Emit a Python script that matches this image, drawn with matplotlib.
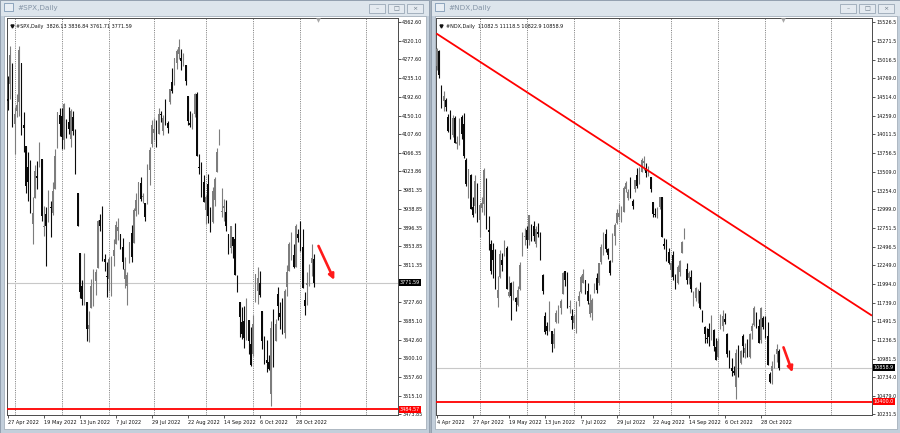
import matplotlib
matplotlib.use("Agg")
import matplotlib.pyplot as plt
from matplotlib.patches import Rectangle

W, H = 900, 433

# --- data: (open, high, low, close) per daily bar ---
spx_candles = [
    (4187, 4241, 4163, 4184), (4223, 4309, 4189, 4288), (4254, 4270, 4124, 4132),
    (4131, 4170, 4063, 4155), (4160, 4200, 4147, 4175), (4181, 4308, 4149, 4300),
    (4270, 4270, 4106, 4147), (4128, 4158, 4068, 4123), (4081, 4081, 3976, 3991),
    (4035, 4069, 3958, 4001), (3990, 4049, 3929, 3935), (3904, 3965, 3859, 3930),
    (3964, 4039, 3964, 4024), (4013, 4047, 3984, 4008), (4052, 4091, 4034, 4089),
    (4052, 4052, 3912, 3924), (3899, 3946, 3877, 3901), (3928, 3943, 3810, 3901),
    (3919, 3982, 3909, 3974), (3943, 3956, 3875, 3941), (3930, 3999, 3925, 3979),
    (3985, 4075, 3985, 4058), (4077, 4158, 4077, 4158), (4151, 4168, 4105, 4132),
    (4150, 4167, 4074, 4101), (4095, 4178, 4074, 4177), (4138, 4143, 4099, 4109),
    (4135, 4169, 4109, 4121), (4097, 4165, 4080, 4161), (4147, 4160, 4107, 4116),
    (4102, 4119, 4017, 4018), (3974, 3974, 3900, 3901), (3838, 3838, 3736, 3750),
    (3764, 3778, 3722, 3735), (3764, 3838, 3722, 3790), (3728, 3728, 3640, 3667),
    (3666, 3708, 3637, 3675), (3715, 3780, 3715, 3765), (3734, 3802, 3718, 3760),
    (3775, 3803, 3744, 3796), (3805, 3914, 3805, 3912), (3913, 3928, 3890, 3900),
    (3913, 3946, 3820, 3822), (3825, 3837, 3799, 3819), (3786, 3819, 3739, 3785),
    (3781, 3830, 3752, 3825), (3793, 3832, 3742, 3831), (3832, 3871, 3809, 3845),
    (3859, 3911, 3859, 3903), (3888, 3919, 3869, 3899), (3881, 3881, 3847, 3854),
    (3852, 3873, 3802, 3819), (3780, 3829, 3759, 3802), (3764, 3796, 3722, 3790),
    (3818, 3864, 3817, 3863), (3884, 3902, 3819, 3831), (3861, 3940, 3861, 3937),
    (3935, 3974, 3922, 3960), (3956, 3999, 3928, 3999), (3998, 4012, 3956, 3962),
    (3966, 3975, 3953, 3967), (3953, 3953, 3911, 3921), (3951, 4040, 3951, 4024),
    (4026, 4079, 3993, 4072), (4087, 4140, 4079, 4130), (4112, 4145, 4096, 4119),
    (4104, 4141, 4080, 4091), (4108, 4168, 4108, 4155), (4155, 4161, 4135, 4152),
    (4116, 4152, 4107, 4145), (4156, 4187, 4129, 4140), (4133, 4137, 4112, 4122),
    (4181, 4211, 4177, 4210), (4227, 4258, 4201, 4207), (4225, 4281, 4220, 4280),
    (4269, 4302, 4257, 4297), (4291, 4325, 4278, 4305), (4280, 4302, 4253, 4274),
    (4273, 4293, 4262, 4284), (4266, 4266, 4219, 4228), (4195, 4195, 4130, 4138),
    (4133, 4160, 4124, 4129), (4127, 4157, 4120, 4141), (4153, 4201, 4148, 4199),
    (4199, 4203, 4058, 4058), (4035, 4063, 4017, 4031), (4041, 4045, 3965, 3986),
    (4001, 4015, 3955, 3955), (3937, 3970, 3904, 3967), (3995, 4018, 3906, 3924),
    (3931, 3943, 3887, 3908), (3909, 3988, 3906, 3980), (3960, 4011, 3945, 4006),
    (4023, 4077, 4023, 4067), (4084, 4119, 4084, 4110), (3932, 3986, 3921, 3933),
    (3941, 3962, 3912, 3946), (3932, 3959, 3888, 3901), (3881, 3881, 3837, 3873),
    (3850, 3901, 3839, 3900), (3875, 3876, 3828, 3856), (3871, 3907, 3790, 3790),
    (3782, 3790, 3750, 3758), (3727, 3727, 3648, 3693), (3683, 3716, 3645, 3655),
    (3686, 3718, 3623, 3647), (3652, 3737, 3641, 3719), (3687, 3687, 3610, 3640),
    (3634, 3671, 3584, 3586), (3610, 3698, 3605, 3678), (3727, 3792, 3727, 3791),
    (3753, 3807, 3723, 3783), (3772, 3798, 3739, 3745), (3707, 3707, 3621, 3640),
    (3648, 3652, 3588, 3612), (3596, 3641, 3569, 3589), (3591, 3608, 3574, 3577),
    (3520, 3685, 3492, 3670), (3690, 3712, 3580, 3583), (3639, 3690, 3639, 3678),
    (3746, 3763, 3687, 3720), (3703, 3729, 3667, 3695), (3689, 3736, 3656, 3666),
    (3657, 3758, 3647, 3753), (3762, 3811, 3742, 3797), (3799, 3863, 3799, 3859),
    (3826, 3886, 3824, 3831), (3835, 3860, 3804, 3807), (3808, 3905, 3808, 3901),
    (3882, 3894, 3863, 3872), (3902, 3912, 3844, 3856), (3853, 3894, 3759, 3760),
    (3733, 3751, 3698, 3720), (3767, 3796, 3722, 3771), (3781, 3814, 3765, 3807),
    (3817, 3859, 3786, 3828), (3826.13, 3836.84, 3761.71, 3771.59),
]

ndx_candles = [
    (14930, 15180, 14880, 15160), (15140, 15150, 14780, 14810), (14640, 14680, 14370, 14480),
    (14470, 14600, 14330, 14530), (14480, 14500, 14330, 14380), (14250, 14290, 14040, 14060),
    (14270, 14340, 13950, 13960), (14000, 14270, 13980, 14240), (14230, 14260, 13890, 13900),
    (13880, 13990, 13820, 13910), (13880, 14230, 13870, 14200), (14250, 14270, 13950, 14020),
    (14150, 14300, 13690, 13720), (13670, 13700, 13320, 13340), (13250, 13550, 13150, 13540),
    (13460, 13480, 13000, 13010), (13030, 13170, 12890, 12930), (13050, 13460, 12950, 13380),
    (13320, 13350, 12830, 12850), (12860, 13080, 12620, 13060), (13020, 13170, 12970, 13090),
    (13070, 13560, 12930, 13530), (13400, 13420, 12740, 12850), (12720, 12910, 12450, 12700),
    (12530, 12590, 12120, 12170), (12450, 12540, 12070, 12320), (12220, 12460, 11930, 11940),
    (11800, 12100, 11680, 11910), (12080, 12450, 12070, 12390), (12320, 12410, 12170, 12250),
    (12500, 12580, 12370, 12570), (12480, 12510, 11920, 11930), (11830, 12100, 11820, 11880),
    (12010, 12020, 11500, 11830), (11890, 12030, 11770, 12020), (11800, 11820, 11630, 11750),
    (11710, 11960, 11690, 11910), (11920, 12290, 11910, 12250), (12370, 12690, 12370, 12680),
    (12630, 12750, 12520, 12640), (12720, 12780, 12480, 12580), (12590, 12930, 12520, 12920),
    (12770, 12800, 12570, 12600), (12780, 12840, 12570, 12640), (12530, 12770, 12490, 12740),
    (12700, 12810, 12620, 12660), (12620, 12700, 12320, 12320), (12110, 12120, 11860, 11890),
    (11560, 11610, 11310, 11340), (11420, 11480, 11300, 11360), (11450, 11760, 11350, 11640),
    (11350, 11360, 11070, 11180), (11180, 11400, 11130, 11310), (11480, 11640, 11460, 11600),
    (11490, 11710, 11470, 11590), (11660, 11790, 11580, 11760), (11850, 12150, 11850, 12140),
    (12160, 12170, 11960, 12040), (12020, 12150, 11670, 11680), (11680, 11770, 11600, 11700),
    (11560, 11650, 11380, 11500), (11470, 11580, 11390, 11560), (11450, 11760, 11330, 11750),
    (11760, 11900, 11700, 11830), (11880, 12110, 11870, 12090), (12010, 12190, 12000, 12130),
    (12040, 12050, 11860, 11880), (11890, 12010, 11720, 11760), (11580, 11850, 11550, 11740),
    (11600, 11800, 11500, 11780), (11910, 12000, 11870, 11990), (12070, 12140, 11870, 11910),
    (12000, 12280, 11980, 12270), (12290, 12530, 12260, 12490), (12460, 12690, 12380, 12680),
    (12670, 12740, 12420, 12470), (12460, 12480, 12330, 12380), (12300, 12310, 12110, 12140),
    (12300, 12680, 12290, 12650), (12640, 12810, 12520, 12790), (12820, 13010, 12800, 12950),
    (12890, 13070, 12850, 12950), (12880, 13050, 12830, 12890), (12970, 13310, 12970, 13290),
    (13280, 13380, 13230, 13350), (13150, 13280, 13120, 13240), (13330, 13440, 13150, 13200),
    (13110, 13140, 13010, 13040), (13280, 13400, 13230, 13390), (13470, 13560, 13290, 13310),
    (13400, 13570, 13340, 13560), (13510, 13700, 13500, 13660), (13620, 13720, 13530, 13650),
    (13560, 13620, 13430, 13490), (13480, 13590, 13450, 13540), (13430, 13430, 13240, 13270),
    (13100, 13100, 12900, 12940), (12930, 13020, 12890, 12920), (12900, 13030, 12880, 12950),
    (13030, 13170, 13010, 13160), (13160, 13170, 12630, 12630), (12530, 12610, 12460, 12510),
    (12590, 12600, 12300, 12380), (12430, 12480, 12260, 12270), (12180, 12290, 12090, 12270),
    (12380, 12440, 12040, 12080), (12100, 12120, 11920, 11990), (12000, 12250, 11990, 12220),
    (12150, 12320, 12100, 12300), (12410, 12570, 12410, 12560), (12610, 12750, 12600, 12740),
    (12200, 12280, 11990, 12040), (12070, 12170, 11990, 12140), (12080, 12180, 11880, 11930),
    (11780, 11900, 11700, 11860), (11800, 11950, 11760, 11940), (11850, 11930, 11740, 11860),
    (11890, 12020, 11650, 11660), (11590, 11640, 11480, 11510), (11410, 11420, 11200, 11310),
    (11260, 11400, 11190, 11250), (11380, 11460, 11150, 11270), (11260, 11570, 11230, 11520),
    (11370, 11380, 11090, 11160), (11140, 11260, 10960, 10970), (11010, 11260, 10990, 11220),
    (11380, 11580, 11380, 11570), (11420, 11640, 11350, 11560), (11520, 11600, 11450, 11480),
    (11320, 11330, 11010, 11040), (11080, 11100, 10860, 10910), (10860, 10990, 10750, 10810),
    (10820, 10880, 10760, 10790), (10600, 11110, 10440, 11060), (11140, 11170, 10730, 10740),
    (10920, 11100, 10910, 11090), (11290, 11310, 11000, 11150), (11060, 11190, 10990, 11120),
    (11110, 11250, 11010, 11060), (11010, 11330, 10990, 11310), (11360, 11460, 11250, 11430),
    (11440, 11690, 11420, 11670), (11420, 11610, 11400, 11400), (11420, 11520, 11190, 11200),
    (11230, 11680, 11200, 11670), (11530, 11560, 11380, 11410), (11550, 11560, 11260, 11300),
    (11290, 11480, 10890, 10890), (10770, 10800, 10650, 10670), (10810, 10950, 10640, 10880),
    (10900, 11040, 10860, 11030), (11050, 11180, 10940, 11110), (11082.5, 11118.5, 10822.9, 10858.9),
]

spx_header = "#SPX,Daily  3826.13 3836.84 3761.71 3771.59"
ndx_header = "#NDX,Daily  11082.5 11118.5 10822.9 10858.9"

spx_price_labels = ["4362.60", "4320.10", "4277.60", "4235.10", "4192.60", "4150.10",
                    "4107.60", "4066.35", "4023.86", "3981.35", "3938.85", "3896.35",
                    "3853.85", "3811.35", "3727.60", "3685.10", "3642.60", "3600.10",
                    "3557.60", "3515.10", "3473.85"]
ndx_price_labels = ["15526.5", "15271.5", "15016.5", "14769.0", "14514.0", "14259.0",
                    "14011.5", "13756.5", "13509.0", "13254.0", "12999.0", "12751.5",
                    "12496.5", "12249.0", "11994.0", "11739.0", "11491.5", "11236.5",
                    "10981.5", "10734.0", "10479.0", "10231.5"]

spx_date_labels = ["27 Apr 2022", "19 May 2022", "13 Jun 2022", "7 Jul 2022", "29 Jul 2022",
                   "22 Aug 2022", "14 Sep 2022", "6 Oct 2022", "28 Oct 2022"]
spx_date_bars = [0, 16, 32, 48, 64, 80, 96, 112, 128]
ndx_date_labels = ["4 Apr 2022"] + spx_date_labels
ndx_date_bars = [0, 16, 32, 48, 64, 80, 96, 112, 128, 144]

spx_grid_bars = [3, 24, 45, 65, 88, 109, 130, 159]
ndx_grid_bars = [19, 40, 61, 81, 104, 125, 146, 175]

spx_last, spx_level = 3771.59, 3484.57
ndx_last, ndx_level = 10858.9, 10400.0
ndx_trend_bars = [0, 193]
ndx_trend_prices = [15370, 11570]
spx_arrow = [(138, 3855), (145, 3778)]
ndx_arrow = [(154, 11135), (158, 10798)]
spx_shift_bar, ndx_shift_bar = 138, 154

UP, DOWN = "#7d7d7d", "#0a0a0a"
FONT = "DejaVu Sans"
plt.rcParams["font.family"] = FONT


def px_rect(x0, y0, x1, y1):
    return [x0 / W, 1 - y1 / H, (x1 - x0) / W, (y1 - y0) / H]


fig = plt.figure(figsize=(9, 4.33), dpi=100)
fig.patch.set_facecolor("#a7b2bd")

# window chrome drawn in pixel space
bg = fig.add_axes([0, 0, 1, 1])
bg.set_xlim(0, W)
bg.set_ylim(H, 0)
bg.axis("off")


def window(x0, x1, title):
    bg.add_patch(Rectangle((x0, 0), x1 - x0, H, facecolor="#c3cfdb", edgecolor="#8e9cab", lw=0.6))
    bg.add_patch(Rectangle((x0 + 0.5, 0.5), x1 - x0 - 1, 15, facecolor="#dde5ec", edgecolor="none"))
    bg.add_patch(Rectangle((x0 + 4, 16), x1 - x0 - 7, 413, facecolor="white", edgecolor="#9aa6b2", lw=0.5))
    bg.add_patch(Rectangle((x0 + 4, 3), 9, 8, facecolor="#e8eef4", edgecolor="#7f9ab5", lw=0.6))
    bg.text(x0 + 17, 8, title, fontsize=5.2, color="#8494a6", va="center", ha="left")
    for i, glyph in enumerate(["\u2013", "\u25a1", "\u00d7"]):
        bx = x1 - 60 + i * 19
        bg.add_patch(Rectangle((bx, 4), 16, 9, facecolor="#e4eaf0", edgecolor="#9aa8b6", lw=0.6))
        bg.text(bx + 8, 8.5, glyph, fontsize=4.5, color="#6c7a88", ha="center", va="center")


window(0, 429, "#SPX,Daily")
window(431, 900, "#NDX,Daily")


def chart(rect, candles, xmin, xmax, ylim, header, price_labels, date_labels, date_bars,
          grid_bars, last, level, arrow, shift_bar):
    ax = fig.add_axes(rect)
    ax.set_facecolor("white")
    idx = list(range(len(candles)))
    o = [c[0] for c in candles]
    h = [c[1] for c in candles]
    l = [c[2] for c in candles]
    c = [c[3] for c in candles]
    cols = [UP if cc >= oo else DOWN for oo, cc in zip(o, c)]
    ax.vlines(idx, l, h, colors=cols, lw=0.8, zorder=3)
    bottoms = [min(a, b) for a, b in zip(o, c)]
    heights = [max(abs(a - b), (ylim[1] - ylim[0]) * 0.002) for a, b in zip(o, c)]
    ax.bar(idx, heights, bottom=bottoms, width=0.8, color=cols, lw=0, zorder=4)

    for gb in grid_bars:
        ax.axvline(gb, color="#5a5a5a", lw=0.5, ls=(0, (1.6, 1.6)), zorder=1)
    ax.axhline(last, color="#c8c8c8", lw=0.8, zorder=2)
    ax.axhline(level, color="#ff0000", lw=1.3, zorder=5)
    ax.annotate("", xy=arrow[1], xytext=arrow[0],
                arrowprops=dict(arrowstyle="-|>", color="#ff1a1a", lw=1.9, mutation_scale=8,
                                shrinkA=0, shrinkB=0), zorder=6)

    ax.set_xlim(xmin, xmax)
    ax.set_ylim(*ylim)
    for s in ax.spines.values():
        s.set_color("#4a4a4a")
        s.set_linewidth(0.7)

    ax.yaxis.tick_right()
    ax.set_yticks([float(v) for v in price_labels])
    ax.set_yticklabels(price_labels)
    ax.tick_params(axis="y", length=2, width=0.5, pad=1, labelsize=3.5, colors="#111111")
    ax.set_xticks(date_bars)
    ax.set_xticklabels(date_labels)
    for t in ax.get_xticklabels():
        t.set_ha("left")
    ax.tick_params(axis="x", length=2, width=0.5, pad=1.8, labelsize=3.6, colors="#111111")

    yt = ax.get_yaxis_transform()
    ax.text(1.004, last, f"{last:.2f}" if last < 5000 else f"{last:.1f}", transform=yt,
            ha="left", va="center", fontsize=3.5, color="white", clip_on=False, zorder=10,
            bbox=dict(facecolor="black", edgecolor="none", pad=0.7))
    ax.text(1.004, level, f"{level:.2f}" if level < 5000 else f"{level:.1f}", transform=yt,
            ha="left", va="center", fontsize=3.5, color="white", clip_on=False, zorder=10,
            bbox=dict(facecolor="#ff0000", edgecolor="none", pad=0.7))

    ax.text(0.023, 0.984, header, transform=ax.transAxes, ha="left", va="top",
            fontsize=3.5, color="#111111", zorder=10)
    ax.plot(0.012, 0.979, marker="v", ms=2.2, color="#111111", transform=ax.transAxes,
            clip_on=False, zorder=10)
    ax.plot(shift_bar, ylim[1] - (ylim[1] - ylim[0]) * 0.006, marker="v", ms=3.4,
            color="#a8a8a8", clip_on=False, zorder=10, markeredgewidth=0)
    return ax


ax1 = chart(px_rect(7, 18, 398, 415), spx_candles, -0.44, -0.44 + 391 / 2.25,
            (3472.0, 4371.5), spx_header, spx_price_labels, spx_date_labels, spx_date_bars,
            spx_grid_bars, spx_last, spx_level, spx_arrow, spx_shift_bar)

ax2 = chart(px_rect(436, 18, 872, 415), ndx_candles, -0.44, -0.44 + 436 / 2.25,
            (10221.0, 15585.0), ndx_header, ndx_price_labels, ndx_date_labels, ndx_date_bars,
            ndx_grid_bars, ndx_last, ndx_level, ndx_arrow, ndx_shift_bar)
ax2.plot(ndx_trend_bars, ndx_trend_prices, color="#ff0000", lw=1.3, zorder=5)

fig.savefig("out.png", dpi=100, facecolor=fig.get_facecolor())
